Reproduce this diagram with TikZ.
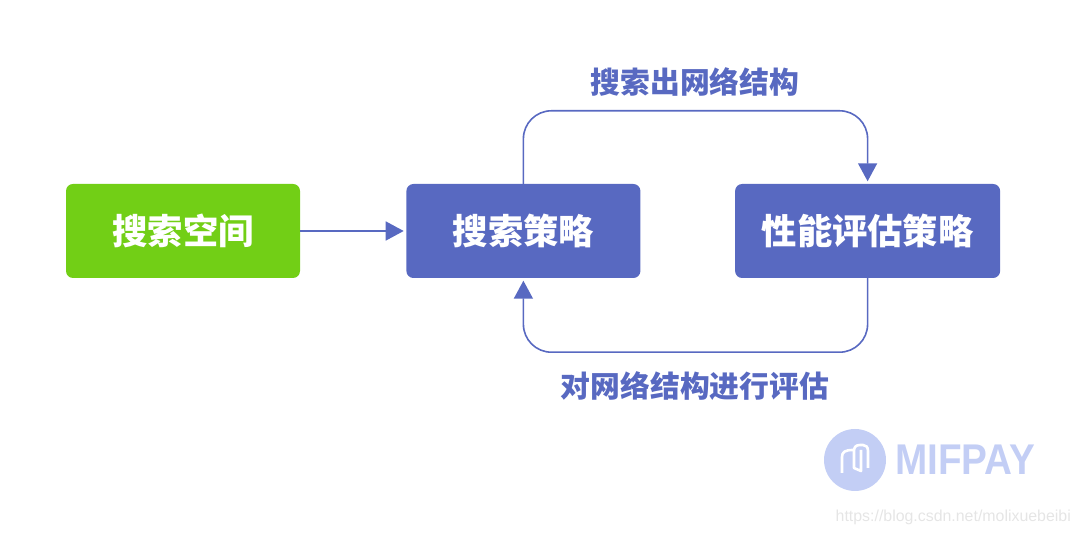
\documentclass[tikz,border=0pt]{standalone}
\usepackage{fontspec}
\newfontfamily\cjk{Noto Sans CJK SC}
\newfontfamily\brand{Liberation Sans}
\usepackage{tikz}
\usetikzlibrary{positioning,arrows.meta}
\definecolor{boxblue}{HTML}{5869C1}
\definecolor{boxgreen}{HTML}{72CF16}
\definecolor{markblue}{HTML}{C3CEF5}

\begin{document}
\begin{tikzpicture}[x=1pt, y=1pt,
    stage/.style={rounded corners=7pt, inner sep=0pt, minimum height=94pt, text=white,
        font={\cjk\bfseries\fontsize{35.3}{35}\selectfont}},
    flow/.style={draw=boxblue, line width=1.6pt, shorten >=2.5pt,
        -{Triangle[length=18pt, width=19pt]}},
    caption/.style={text=boxblue, inner sep=0pt, font={\cjk\bfseries\fontsize{29.8}{30}\selectfont}}]

    \useasboundingbox (0,0) rectangle (1080,535);

    % Stages
    \node[stage, fill=boxgreen, minimum width=234pt] (space) at (183,304) {搜索空间};
    \node[stage, fill=boxblue, minimum width=234pt, right=106pt of space] (search) {搜索策略};
    \node[stage, fill=boxblue, minimum width=265pt, right=95pt of search, xshift=-0.7pt] (eval) {性能评估策略};

    % Connectors
    \draw[flow] (space) -- (search);
    \draw[flow, rounded corners=28pt] (search.north) -- ++(0,73) -| (eval.north);
    \draw[flow, rounded corners=28pt] (eval.south) -- ++(0,-74) -| (search.south);

    % Captions
    \node[caption] (found) at (695,453) {搜索出网络结构};
    \node[caption] (rated) at (695,149) {对网络结构进行评估};

    % Watermark
    \node[circle, fill=markblue, minimum size=62pt, inner sep=0pt] (badge) at (855,75) {};
    \draw[white, line width=2.6pt, line join=round]
        (842,62) -- (842,78) .. controls (842,83) and (845,85) .. (853,85);
    \draw[white, line width=2.6pt, line join=round]
        (861,85) -- (861,64) -- (854,67) -- (854,84) .. controls (854,88) and (856,90) .. (860,90)
        -- (863,90) .. controls (866,90) and (868,88) .. (868,84) -- (868,67);
    \node[text=markblue, inner sep=0pt, anchor=west, xscale=0.9, transform shape,
        font={\brand\bfseries\fontsize{43}{43}\selectfont}] (name) at (895,75) {MIFPAY};
    \node[text=black!10, inner sep=0pt, anchor=east, font={\brand\fontsize{15.9}{16}\selectfont}]
        (link) at (1071,18) {https://blog.csdn.net/molixuebeibi};
\end{tikzpicture}
\end{document}
